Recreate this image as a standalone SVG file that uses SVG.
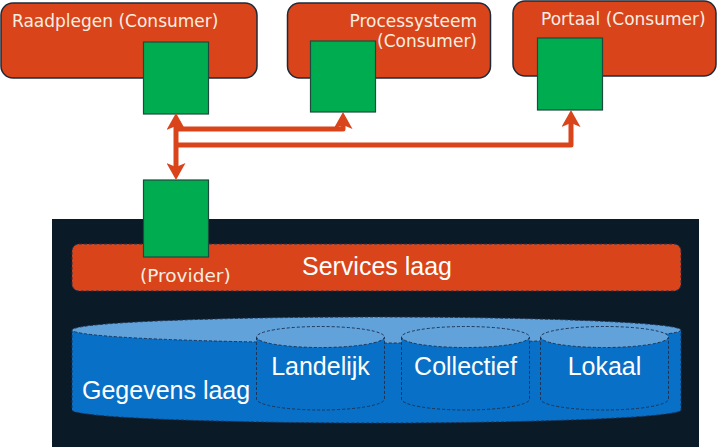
<svg xmlns="http://www.w3.org/2000/svg" width="717" height="447" viewBox="0 0 717 447">
  <defs>
    <style>
      .consumer { fill: #D9441A; stroke: #1c2b3a; stroke-width: 1.5; }
      .port { fill: #00AC50; stroke: #1d4a3c; stroke-width: 1.2; }
      .lbl { font-family: "DejaVu Sans", Verdana, sans-serif; font-size: 17px; fill: #f8efe2; }
      .big { font-family: "Liberation Sans", Arial, sans-serif; font-size: 25px; fill: #ffffff; }
      .conn { fill: none; stroke: #D9441A; stroke-width: 5; stroke-linejoin: round; }
      .dash { stroke: #1d3556; stroke-width: 1; stroke-dasharray: 3 2; }
      .body { fill: #0870C6; }
      .top { fill: #62A2DA; }
    </style>
    <marker id="arr" markerUnits="userSpaceOnUse" markerWidth="17" markerHeight="19" viewBox="0 0 17 19" refX="4" refY="9.5" orient="auto-start-reverse">
      <path d="M0,0 L17,9.5 L0,19 L4,9.5 Z" fill="#D9441A"/>
    </marker>
  </defs>

  <rect id="frame" x="52" y="219" width="647" height="230" fill="#0b1a27"/>

  <g id="services">
    <rect x="72" y="244" width="609" height="47" rx="7" fill="#D9441A" class="dash" stroke="#6b2a14"/>
    <text class="big" x="377" y="275" text-anchor="middle">Services laag</text>
  </g>

  <g id="gegevens">
    <path class="body dash" d="M72,330 V410 A304.5,13 0 0 0 681,410 V330 Z"/>
    <ellipse class="top dash" cx="376.5" cy="330" rx="304.5" ry="13"/>
    <text class="big" x="82" y="399">Gegevens laag</text>
  </g>

  <g id="landelijk">
    <path class="body dash" d="M256.5,337 V399 A64,11 0 0 0 384.5,399 V337 Z"/>
    <ellipse class="top dash" cx="320.5" cy="337" rx="64" ry="10.5"/>
    <text class="big" x="320.5" y="375" text-anchor="middle">Landelijk</text>
  </g>

  <g id="collectief">
    <path class="body dash" d="M401.5,337 V399 A64,11 0 0 0 529.5,399 V337 Z"/>
    <ellipse class="top dash" cx="465.5" cy="337" rx="64" ry="10.5"/>
    <text class="big" x="465.5" y="375" text-anchor="middle">Collectief</text>
  </g>

  <g id="lokaal">
    <path class="body dash" d="M540.5,337 V399 A64,11 0 0 0 668.5,399 V337 Z"/>
    <ellipse class="top dash" cx="604.5" cy="337" rx="64" ry="10.5"/>
    <text class="big" x="604.5" y="375" text-anchor="middle">Lokaal</text>
  </g>

  <g id="raadplegen">
    <rect class="consumer" x="1" y="3" width="256" height="75" rx="12"/>
    <text class="lbl" x="12" y="27">Raadplegen (Consumer)</text>
  </g>

  <g id="processysteem">
    <rect class="consumer" x="287.5" y="3" width="203" height="75" rx="12"/>
    <text class="lbl" x="477" y="27" text-anchor="end">Processysteem</text>
    <text class="lbl" x="477" y="47" text-anchor="end">(Consumer)</text>
  </g>

  <g id="portaal">
    <rect class="consumer" x="513" y="1" width="203" height="75" rx="12"/>
    <text class="lbl" x="541" y="25">Portaal (Consumer)</text>
  </g>

  <g id="port-raadplegen">
    <rect class="port" x="143.5" y="42" width="65" height="72"/>
  </g>
  <g id="port-processysteem">
    <rect class="port" x="310.5" y="41" width="65" height="71"/>
  </g>
  <g id="port-portaal">
    <rect class="port" x="537.5" y="38" width="65" height="72"/>
  </g>
  <g id="provider">
    <rect class="port" x="143.5" y="180" width="65" height="77"/>
    <text class="lbl" x="140" y="282" style="font-size:18.5px">(Provider)</text>
  </g>

  <g id="connectors">
    <path class="conn" d="M176,126 V167" marker-start="url(#arr)" marker-end="url(#arr)"/>
    <path class="conn" d="M176,129 H343 V125" marker-end="url(#arr)"/>
    <path class="conn" d="M176,145 H571 V123" marker-end="url(#arr)"/>
  </g>
</svg>
